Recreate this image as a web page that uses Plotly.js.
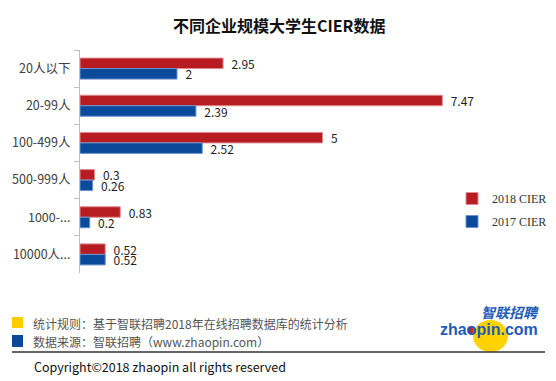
<!DOCTYPE html>
<html>
<head>
<meta charset="utf-8">
<script src="https://cdn.plot.ly/plotly-3.0.1.min.js"></script>
<style>html,body{margin:0;padding:0;background:#fff;}#chart{width:556px;height:381px;}</style>
</head>
<body>
<div id="chart"></div>
<script>
const categories = ["20人以下", "20-99人", "100-499人", "500-999人", "1000-...", "10000人..."];
const cier2018 = [2.95, 7.47, 5, 0.3, 0.83, 0.52];
const cier2017 = [2, 2.39, 2.52, 0.26, 0.2, 0.52];
const seriesNames = ["2018 CIER", "2017 CIER"];

const W = 556, H = 381, L = 80, R = 88, T = 50, B = 108;
const pw = W - L - R, ph = H - T - B;
const px = x => (x - L) / pw;
const py = y => (H - B - y) / ph;

const cjk = '"Noto Sans CJK SC", "Noto Sans", sans-serif';
const RED = '#B71C23', BLUE = '#0B4A9B';

const traces = [
  {type: 'bar', orientation: 'h', name: seriesNames[0], legendgroup: 'a', y: categories, x: cier2018,
   marker: {color: RED, line: {color: '#e08a90', width: 1}},
   texttemplate: '\u00a0\u00a0%{x}', textposition: 'outside', cliponaxis: false, constraintext: 'none',
   textfont: {family: cjk, size: 12, color: '#222'}, hoverinfo: 'x+y'},
  {type: 'bar', orientation: 'h', name: seriesNames[1], legendgroup: 'b', y: categories, x: cier2017,
   marker: {color: BLUE, line: {color: '#6a92cc', width: 1}},
   texttemplate: '\u00a0\u00a0%{x}', textposition: 'outside', cliponaxis: false, constraintext: 'none',
   textfont: {family: cjk, size: 12, color: '#222'}, hoverinfo: 'x+y'}
];

const annotations = [
  {text: '<b>不同企业规模大学生CIER数据</b>', xref: 'paper', yref: 'paper', x: px(279), y: py(25),
   xanchor: 'center', yanchor: 'middle', showarrow: false, font: {family: cjk, size: 16, color: '#111'}},
  {text: '统计规则：基于智联招聘2018年在线招聘数据库的统计分析', xref: 'paper', yref: 'paper', x: px(31), y: py(323),
   xanchor: 'left', yanchor: 'middle', showarrow: false, font: {family: cjk, size: 12, color: '#555'}},
  {text: '数据来源：智联招聘（www.zhaopin.com）', xref: 'paper', yref: 'paper', x: px(31), y: py(341),
   xanchor: 'left', yanchor: 'middle', showarrow: false, font: {family: cjk, size: 12, color: '#555'}},
  {text: 'Copyright©2018 zhaopin all rights reserved', xref: 'paper', yref: 'paper', x: px(32), y: py(366),
   xanchor: 'left', yanchor: 'middle', showarrow: false, font: {family: cjk, size: 12.5, color: '#111'}},
  {text: '<b><i>智联招聘</i></b>', xref: 'paper', yref: 'paper', x: px(510), y: py(312),
   xanchor: 'center', yanchor: 'middle', showarrow: false, font: {family: cjk, size: 14, color: '#1f5bb8'}},
  {text: '<b>zhaopin.com</b>', xref: 'paper', yref: 'paper', x: px(489), y: py(329),
   xanchor: 'center', yanchor: 'middle', showarrow: false, font: {family: '"Liberation Sans", Arial, sans-serif', size: 16, color: '#1f5bb8'}}
];

const shapes = [
  {type: 'circle', xref: 'paper', yref: 'paper', x0: px(473), x1: px(508), y0: py(320), y1: py(352),
   fillcolor: '#FFD200', line: {width: 0}, layer: 'below'},
  {type: 'rect', xref: 'paper', yref: 'paper', x0: px(12), x1: px(23), y0: py(317), y1: py(328),
   fillcolor: '#FFCC00', line: {width: 0}},
  {type: 'rect', xref: 'paper', yref: 'paper', x0: px(12), x1: px(23), y0: py(335), y1: py(347),
   fillcolor: BLUE, line: {width: 0}},
  {type: 'line', xref: 'paper', yref: 'paper', x0: px(12), x1: px(545), y0: py(352), y1: py(352),
   line: {color: '#333', width: 1.5}}
];

const layout = {
  width: W, height: H,
  margin: {l: L, r: R, t: T, b: B, pad: 0, autoexpand: false},
  paper_bgcolor: '#fff', plot_bgcolor: '#fff',
  showlegend: true,
  barmode: 'group', bargap: 0.435, bargroupgap: 0,
  xaxis: {range: [0, 8], visible: false, fixedrange: true},
  yaxis: {type: 'category', autorange: 'reversed', showline: true, linecolor: '#bfbfbf', linewidth: 1,
          ticks: 'outside', ticklen: 5, tickcolor: '#bfbfbf', tickson: 'boundaries', showgrid: false,
          tickfont: {family: cjk, size: 12.5, color: '#404040'}, ticklabelstandoff: 6, zeroline: false},
  legend: {xref: 'container', yref: 'container', x: 452 / W, y: 1 - 184 / H, xanchor: 'left', yanchor: 'top',
           bgcolor: 'rgba(0,0,0,0)',
           font: {family: '"Liberation Serif", serif', size: 12, color: '#333'},
           itemwidth: 30, traceorder: 'grouped', tracegroupgap: 4},
  annotations: annotations,
  shapes: shapes
};

Plotly.newPlot('chart', traces, layout, {displayModeBar: false, staticPlot: true}).then(function () {
  // red ball on the "o" of the logo
  Plotly.relayout('chart', {'shapes[4]': {type: 'circle', xref: 'paper', yref: 'paper',
    x0: px(467), x1: px(475), y0: py(326), y1: py(334), fillcolor: '#D42A2A', line: {width: 0}}});
});
</script>
</body>
</html>
